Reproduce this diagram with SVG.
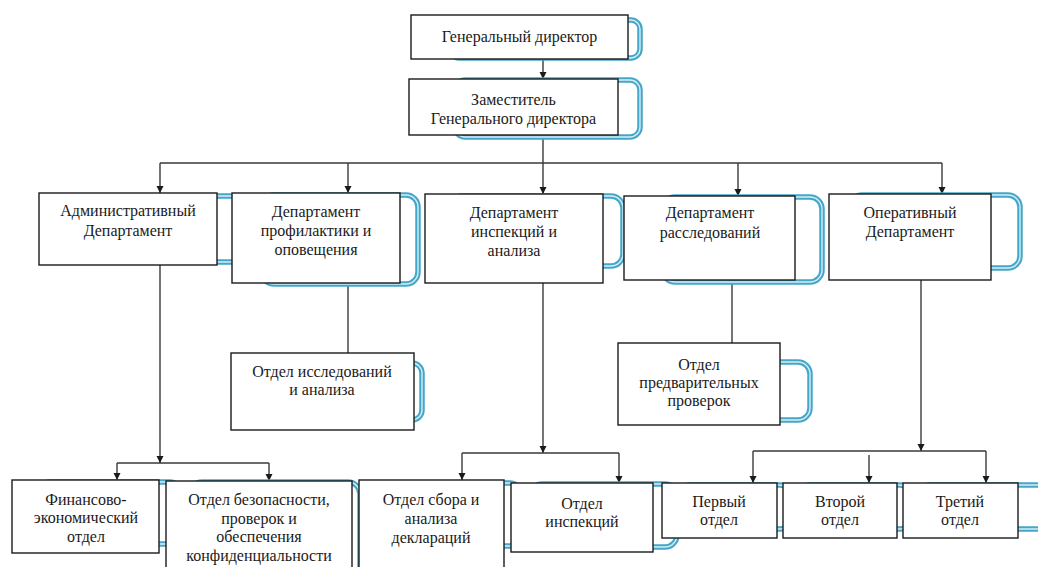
<svg xmlns="http://www.w3.org/2000/svg" width="1038" height="567" viewBox="0 0 1038 567">
<defs>
<style>
.box{fill:#ffffff;stroke:#1a1a1a;stroke-width:1.4}
.sh{fill:none;stroke:#45a7c8;stroke-width:5.5}
.shi{fill:none;stroke:#d4eef6;stroke-width:1.4}
.t{font-size:16px;fill:#1a1a1a;text-anchor:middle}
.ln{fill:none;stroke:#3a3a3a;stroke-width:1.4}
</style>
<marker id="ar" markerUnits="userSpaceOnUse" markerWidth="8" markerHeight="8" refX="7" refY="4" orient="auto">
<path d="M0,0.5 L7,4 L0,7.5 z" fill="#1a1a1a"/>
</marker>
</defs>
<rect width="1038" height="567" fill="#ffffff"/>

<g id="connectors">
<line class="ln" x1="543" y1="59" x2="543" y2="79" marker-end="url(#ar)"/>
<line class="ln" x1="543" y1="135" x2="543" y2="163"/>
<line class="ln" x1="160" y1="163" x2="942" y2="163"/>
<line class="ln" x1="160" y1="163" x2="160" y2="193" marker-end="url(#ar)"/>
<line class="ln" x1="348" y1="163" x2="348" y2="193" marker-end="url(#ar)"/>
<line class="ln" x1="543" y1="163" x2="543" y2="194" marker-end="url(#ar)"/>
<line class="ln" x1="738" y1="163" x2="738" y2="196" marker-end="url(#ar)"/>
<line class="ln" x1="942" y1="163" x2="942" y2="194" marker-end="url(#ar)"/>
<line class="ln" x1="160" y1="265" x2="160" y2="463" marker-end="url(#ar)"/>
<line class="ln" x1="117" y1="463" x2="269" y2="463"/>
<line class="ln" x1="117" y1="463" x2="117" y2="480" marker-end="url(#ar)"/>
<line class="ln" x1="269" y1="463" x2="269" y2="481" marker-end="url(#ar)"/>
<line class="ln" x1="348" y1="283" x2="348" y2="353"/>
<line class="ln" x1="543" y1="283" x2="543" y2="453" marker-end="url(#ar)"/>
<line class="ln" x1="462" y1="453" x2="619" y2="453"/>
<line class="ln" x1="462" y1="453" x2="462" y2="480" marker-end="url(#ar)"/>
<line class="ln" x1="619" y1="453" x2="619" y2="483" marker-end="url(#ar)"/>
<line class="ln" x1="732" y1="280" x2="732" y2="343"/>
<line class="ln" x1="921" y1="280" x2="921" y2="451" marker-end="url(#ar)"/>
<line class="ln" x1="753" y1="451" x2="986" y2="451"/>
<line class="ln" x1="753" y1="451" x2="753" y2="483" marker-end="url(#ar)"/>
<line class="ln" x1="869" y1="455" x2="869" y2="483" marker-end="url(#ar)"/>
<line class="ln" x1="986" y1="451" x2="986" y2="483" marker-end="url(#ar)"/>
</g>

<g id="nodes" font-family="Liberation Serif, Times New Roman, DejaVu Serif, serif">
<g id="n-gendir">
<rect class="sh" x="450" y="20" width="190" height="38" rx="9"/><rect class="shi" x="450" y="20" width="190" height="38" rx="9"/>
<rect class="box" x="411" y="15" width="217" height="44"/>
<text class="t" x="519.5" y="42">Генеральный директор</text>
</g>
<g id="n-deputy">
<rect class="sh" x="455" y="80" width="185" height="57" rx="10"/><rect class="shi" x="455" y="80" width="185" height="57" rx="10"/>
<rect class="box" x="409" y="79" width="209" height="56"/>
<text class="t" x="513.5" y="105">Заместитель</text>
<text class="t" x="513.5" y="124">Генерального директора</text>
</g>
<g id="n-admin">
<rect class="sh" x="60" y="196" width="185" height="66" rx="10"/><rect class="shi" x="60" y="196" width="185" height="66" rx="10"/>
<rect class="box" x="39" y="193" width="178" height="72"/>
<text class="t" x="128" y="216">Административный</text>
<text class="t" x="128" y="236">Департамент</text>
</g>
<g id="n-prof">
<rect class="sh" x="262" y="195" width="156" height="89" rx="12"/><rect class="shi" x="262" y="195" width="156" height="89" rx="12"/>
<rect class="box" x="232" y="193" width="168" height="90"/>
<text class="t" x="316" y="217">Департамент</text>
<text class="t" x="316" y="236">профилактики и</text>
<text class="t" x="316" y="255">оповещения</text>
</g>
<g id="n-insp">
<rect class="sh" x="450" y="196" width="173" height="70" rx="12"/><rect class="shi" x="450" y="196" width="173" height="70" rx="12"/>
<rect class="box" x="425" y="194" width="178" height="89"/>
<text class="t" x="514" y="218">Департамент</text>
<text class="t" x="514" y="237">инспекций и</text>
<text class="t" x="514" y="256">анализа</text>
</g>
<g id="n-rassl">
<rect class="sh" x="663" y="197" width="159" height="85" rx="12"/><rect class="shi" x="663" y="197" width="159" height="85" rx="12"/>
<rect class="box" x="624" y="196" width="171" height="84"/>
<text class="t" x="710" y="218">Департамент</text>
<text class="t" x="710" y="238">расследований</text>
</g>
<g id="n-oper">
<rect class="sh" x="850" y="195" width="170" height="73" rx="12"/><rect class="shi" x="850" y="195" width="170" height="73" rx="12"/>
<rect class="box" x="829" y="194" width="162" height="86"/>
<text class="t" x="910" y="218">Оперативный</text>
<text class="t" x="910" y="237">Департамент</text>
</g>
<g id="n-issl">
<rect class="sh" x="260" y="363" width="162" height="57" rx="10"/><rect class="shi" x="260" y="363" width="162" height="57" rx="10"/>
<rect class="box" x="231" y="353" width="183" height="77"/>
<text class="t" x="322" y="377">Отдел исследований</text>
<text class="t" x="322" y="395">и анализа</text>
</g>
<g id="n-predv">
<rect class="sh" x="640" y="362" width="170" height="58" rx="12"/><rect class="shi" x="640" y="362" width="170" height="58" rx="12"/>
<rect class="box" x="618" y="343" width="162" height="82"/>
<text class="t" x="699" y="370">Отдел</text>
<text class="t" x="699" y="388">предварительных</text>
<text class="t" x="699" y="406">проверок</text>
</g>
<g id="n-fin">
<rect class="sh" x="40" y="482" width="140" height="62" rx="10"/><rect class="shi" x="40" y="482" width="140" height="62" rx="10"/>
<rect class="box" x="12" y="480" width="147" height="73"/>
<text class="t" x="86" y="505">Финансово-</text>
<text class="t" x="86" y="523">экономический</text>
<text class="t" x="86" y="542">отдел</text>
</g>
<g id="n-bezop">
<rect class="sh" x="190" y="482" width="170" height="100" rx="12"/><rect class="shi" x="190" y="482" width="170" height="100" rx="12"/>
<rect class="box" x="166" y="481" width="186" height="100"/>
<text class="t" x="259" y="505">Отдел безопасности,</text>
<text class="t" x="259" y="524">проверок и</text>
<text class="t" x="259" y="542">обеспечения</text>
<text class="t" x="259" y="561">конфиденциальности</text>
</g>
<g id="n-sbor">
<rect class="sh" x="380" y="483" width="140" height="63" rx="10"/><rect class="shi" x="380" y="483" width="140" height="63" rx="10"/>
<rect class="box" x="359" y="480" width="145" height="100"/>
<text class="t" x="431" y="505">Отдел сбора и</text>
<text class="t" x="431" y="524">анализа</text>
<text class="t" x="431" y="543">деклараций</text>
</g>
<g id="n-inspotd">
<rect class="sh" x="530" y="484" width="147" height="63" rx="12"/><rect class="shi" x="530" y="484" width="147" height="63" rx="12"/>
<rect class="box" x="511" y="483" width="142" height="69"/>
<text class="t" x="582" y="509">Отдел</text>
<text class="t" x="582" y="527">инспекций</text>
</g>
<g id="n-perv">
<rect class="sh" x="680" y="485" width="110" height="44" rx="10"/><rect class="shi" x="680" y="485" width="110" height="44" rx="10"/>
<rect class="box" x="662" y="483" width="115" height="55"/>
<text class="t" x="719" y="507">Первый</text>
<text class="t" x="719" y="525">отдел</text>
</g>
<g id="n-vtor">
<rect class="sh" x="800" y="485" width="110" height="44" rx="10"/><rect class="shi" x="800" y="485" width="110" height="44" rx="10"/>
<rect class="box" x="783" y="483" width="114" height="55"/>
<text class="t" x="840" y="507">Второй</text>
<text class="t" x="840" y="525">отдел</text>
</g>
<g id="n-tret">
<rect class="sh" x="920" y="485" width="130" height="44" rx="10"/><rect class="shi" x="920" y="485" width="130" height="44" rx="10"/>
<rect class="box" x="903" y="483" width="115" height="55"/>
<text class="t" x="960" y="507">Третий</text>
<text class="t" x="960" y="525">отдел</text>
</g>
</g>
</svg>
